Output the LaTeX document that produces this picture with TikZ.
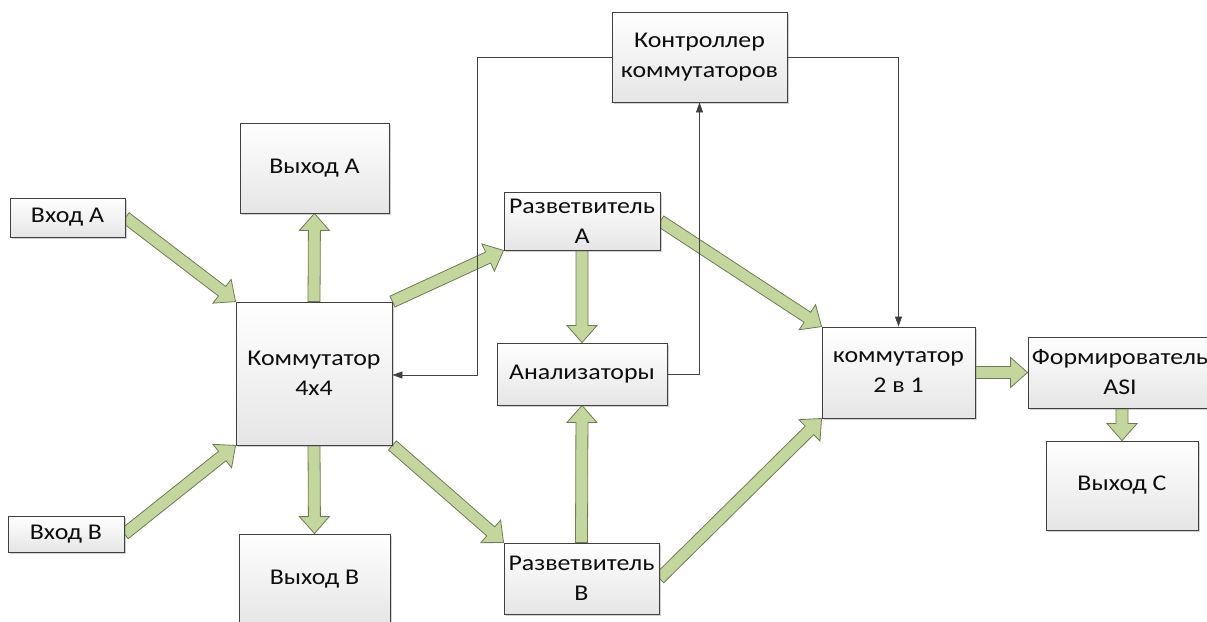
\documentclass[tikz,border=0pt]{standalone}
\usepackage{fontspec}
\setmainfont{Carlito}[FakeStretch=1.15]
\usetikzlibrary{calc,arrows.meta,shadows,backgrounds}
\definecolor{agreen}{HTML}{C3D69B}
\definecolor{aline}{HTML}{6F7A58}
\definecolor{bline}{HTML}{404040}
\tikzset{
 box/.style={draw=bline, line width=0.9pt, top color=white, bottom color=black!10,
   drop shadow={shadow xshift=2pt, shadow yshift=-2pt, opacity=0.35, fill=black!50},
   align=center, font=\fontsize{22.5}{30}\selectfont, text=black!95, inner sep=0pt},
 fatarrow/.style={fill=agreen, draw=aline, line width=0.8pt, line join=miter},
 ctl/.style={draw=black!75, line width=0.7pt, -{Triangle[length=10pt,width=7pt]}},
}
\newcommand{\fatarr}[2]{%
 \coordinate (faS) at (#1); \coordinate (faE) at (#2);
 \coordinate (faH) at ($(faE)!17pt!(faS)$);
 \filldraw[fatarrow] ($(faS)!6pt!90:(faE)$) -- ($(faH)!6pt!90:(faE)$) -- ($(faH)!15pt!90:(faE)$) -- (faE) -- ($(faH)!15pt!-90:(faE)$) -- ($(faH)!6pt!-90:(faE)$) -- ($(faS)!6pt!-90:(faE)$) -- cycle;}
\begin{document}
\begin{tikzpicture}[x=1pt,y=-1pt]
\clip (0,0) rectangle (1207,621);
\useasboundingbox (0,0) rectangle (1207,621);
% boxes
\node[box, minimum width=115pt, minimum height=39pt] (vhA) at (67.5,217.5) {Вход А};
\node[box, minimum width=149pt, minimum height=90pt] (vyhA) at (314.5,168) {Выход А};
\node[box, minimum width=156pt, minimum height=143pt] (kom) at (314,373.5) {Коммутатор\\4x4};
\node[box, minimum width=116pt, minimum height=36pt] (vhB) at (66,534) {Вход В};
\node[box, minimum width=151pt, minimum height=90pt] (vyhB) at (314.5,579) {Выход В};
\node[box, minimum width=175pt, minimum height=90pt] (ctrl) at (699.5,57) {Контроллер\\коммутаторов};
\node[box, minimum width=156pt, minimum height=58pt] (rzA) at (582,221) {Разветвитель\\А};
\node[box, minimum width=170pt, minimum height=62pt] (anl) at (582,374) {Анализаторы};
\node[box, minimum width=155pt, minimum height=71pt] (rzB) at (581.5,578.5) {Разветвитель\\В};
\node[box, minimum width=153pt, minimum height=91pt] (k21) at (898.5,372.5) {коммутатор\\2 в 1};
\node[box, minimum width=184pt, minimum height=71pt] (frm) at (1120,372.5) {Формирователь\\ASI};
\node[box, minimum width=152pt, minimum height=89pt] (vyhC) at (1122,485.5) {Выход С};
% fat arrows
\begin{scope}[on background layer]
\fill[white] (0,0) rectangle (1207,621);
\fatarr{vhA.east}{kom.north west}
\fatarr{kom.north}{vyhA.south}
\fatarr{kom.north east}{rzA.south west}
\fatarr{vhB.east}{kom.south west}
\fatarr{kom.south}{vyhB.north}
\fatarr{kom.south east}{rzB.north west}
\fatarr{rzA.south}{anl.north}
\fatarr{rzB.north}{anl.south}
\fatarr{rzA.east}{k21.north west}
\fatarr{rzB.east}{k21.south west}
\fatarr{k21.east}{frm.west}
\fatarr{vyhC.north |- frm.south}{vyhC.north}
\end{scope}
% control lines
\coordinate (c1) at (477,375);
\draw[ctl] (ctrl.west) -| (c1) -- (kom.east |- c1);
\draw[ctl] (ctrl.east) -| (k21.north);
\draw[ctl] (anl.east) -| (ctrl.south);
\end{tikzpicture}
\end{document}
